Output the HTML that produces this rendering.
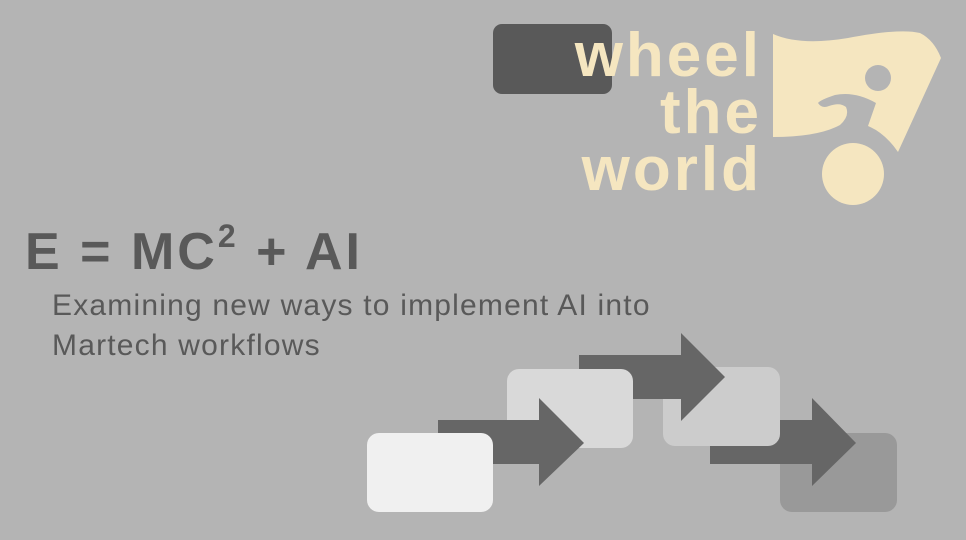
<!DOCTYPE html>
<html><head><meta charset="utf-8"><style>
body{margin:0;width:966px;height:540px;background:#b4b4b4;overflow:hidden;position:relative;font-family:"Liberation Sans",sans-serif}
.a{position:absolute}
</style></head><body>
<div class="a" style="left:493px;top:24px;width:119px;height:70px;background:#595959;border-radius:9px"></div>
<div class="a" style="left:440px;top:27px;width:322px;text-align:right;color:#f5e6c0;font-weight:bold;font-size:62px;line-height:57px;letter-spacing:3px">wheel<br>the<br>world</div>
<svg class="a" style="left:0;top:0" width="966" height="540">
<path d="M773 34 Q800 46 848 38 Q900 28 920 33 Q934 40 941 58 L898 152 Q885 133 868 126 L876 103 Q855 91 835 95 Q820 100 818 103 Q822 109 829 106 Q840 102 846 107 Q850 116 840 125 Q818 137 773 137 Z" fill="#f5e6c0"/>
<circle cx="878" cy="78" r="13" fill="#b4b4b4"/>
<circle cx="853" cy="174" r="31" fill="#f5e6c0"/>
<rect x="780" y="433" width="117" height="79" rx="12" fill="#999"/>
<polygon points="710,420 812,420 812,398 856,443 812,486 812,464 710,464" fill="#666"/>
<rect x="663" y="367" width="117" height="79" rx="12" fill="#ccc"/>
<polygon points="579,355 681,355 681,333 725,377 681,421 681,399 579,399" fill="#666"/>
<rect x="507" y="369" width="126" height="79" rx="12" fill="#d9d9d9"/>
<polygon points="438,420 539,420 539,398 584,443 539,486 539,464 438,464" fill="#666"/>
<rect x="367" y="433" width="126" height="79" rx="12" fill="#f0f0f0"/>
</svg>
<div class="a" style="left:25px;top:222px;color:#595959;font-weight:bold;font-size:52px;line-height:60px;letter-spacing:3px;white-space:nowrap">E = MC<sup style="font-size:32px;vertical-align:22px;line-height:0">2</sup> + AI</div>
<div class="a" style="left:52px;top:286px;color:#595959;font-size:30px;line-height:40px;letter-spacing:1.2px;white-space:nowrap">Examining new ways to implement AI into<br>Martech workflows</div>
</body></html>
